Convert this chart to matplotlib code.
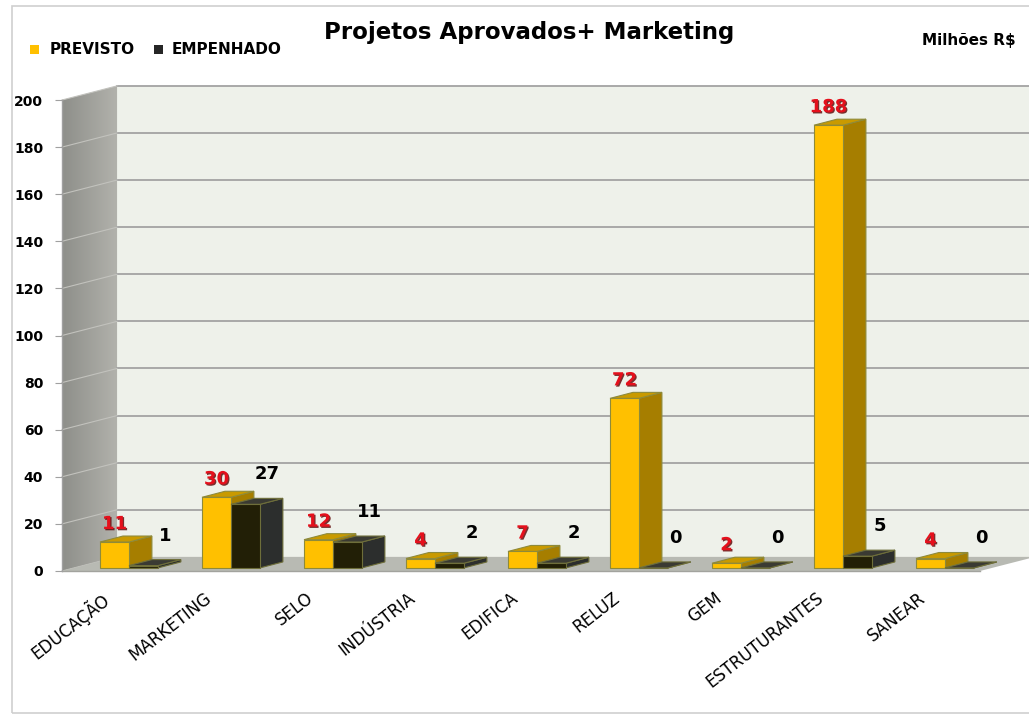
import matplotlib.pyplot as plt
import matplotlib.patheffects as pe
import numpy as np
from matplotlib.colors import LinearSegmentedColormap
from matplotlib.patches import Polygon, Rectangle

categorias = ["EDUCAÇÃO", "MARKETING", "SELO", "INDÚSTRIA", "EDIFICA",
              "RELUZ", "GEM", "ESTRUTURANTES", "SANEAR"]
previsto = [11, 30, 12, 4, 7, 72, 2, 188, 4]
empenhado = [1, 27, 11, 2, 2, 0, 0, 5, 0]
yticks = list(range(0, 201, 20))

W, H = 1029, 717

# fake 3d geometry (data units)
DX, DY = 0.54, 6.0        # depth of walls / floor
BDX, BDY = 0.225, 2.55    # depth of bars
BASE = 1.3
BW = 0.284
XR = 9.7                  # back wall runs off the right edge

YEL = ("#FFC000", "#A67E00", "#C99A00", "#8E8A3A")
BLK = ("#221F06", "#2C2E2D", "#3A3A33", "#6E6E3A")


def bar3d(ax, x0, v, colors):
    front, side, top, edge = colors
    t = BASE + v
    faces = [
        ([(x0 + BW, BASE), (x0 + BW + BDX, BASE + BDY),
          (x0 + BW + BDX, t + BDY), (x0 + BW, t)], side),
        ([(x0, t), (x0 + BDX, t + BDY), (x0 + BW + BDX, t + BDY),
          (x0 + BW, t)], top),
        ([(x0, BASE), (x0 + BW, BASE), (x0 + BW, t), (x0, t)], front),
    ]
    for pts, c in faces:
        ax.add_patch(Polygon(pts, closed=True, fc=c, ec=edge, lw=0.8,
                             zorder=3, clip_on=False))


def main() -> None:
    fig = plt.figure(figsize=(W / 100, H / 100), dpi=100)
    ax = fig.add_axes([62 / W, 146 / H, 918 / W, 471 / H])
    n = len(categorias)
    ax.set_xlim(0, n)
    ax.set_ylim(0, 200)

    # back wall + grid
    ax.add_patch(Rectangle((DX, DY), XR - DX, 200, fc="#EEF1EA", ec="none",
                           zorder=0, clip_on=False))
    for v in yticks[1:]:
        ax.plot([DX, XR], [v + DY, v + DY], color="#A3A3A3", lw=1.3,
                zorder=1, clip_on=False)

    # left wall with gradient
    wall = Polygon([(0, 0), (DX, DY), (DX, 200 + DY), (0, 200)], closed=True,
                   fc="none", ec="none", transform=ax.transData)
    ax.add_patch(wall)
    cmap = LinearSegmentedColormap.from_list("wall", ["#8E8F8A", "#B2B2AC"])
    im = ax.imshow(np.linspace(0, 1, 50)[None, :], cmap=cmap, aspect="auto",
                   extent=[0, DX, 0, 200 + DY], zorder=0.5)
    im.set_clip_box(fig.bbox)
    im.set_clip_path(wall)
    for v in yticks:
        ax.plot([0, DX], [v, v + DY], color="#C2C2BD", lw=0.8, zorder=1,
                clip_on=False)

    # floor
    ax.add_patch(Polygon([(0, 0), (n, 0), (n + DX, DY), (DX, DY)], closed=True,
                         fc="#B8BAB3", ec="none", zorder=1, clip_on=False))
    ax.plot([0, n], [0, 0], color="#A2A39E", lw=1.0, zorder=1.5, clip_on=False)

    ax.set_xlim(0, n)
    ax.set_ylim(0, 200)

    red_fx = [pe.SimplePatchShadow(offset=(0.9, -0.9), shadow_rgbFace="#5A0000",
                                   alpha=0.8),
              pe.Normal()]
    for i in range(n):
        xy = i + 0.3725
        xb = xy + BW
        bar3d(ax, xy, previsto[i], YEL)
        bar3d(ax, xb, empenhado[i], BLK)
        ax.annotate(str(previsto[i]), (xy + BW / 2, BASE + previsto[i]),
                    xytext=(0, 18), textcoords="offset pixels", ha="center",
                    va="center", fontsize=13, fontweight="bold",
                    color="#E5101C", path_effects=red_fx, zorder=5,
                    annotation_clip=False)
        ax.annotate(str(empenhado[i]), (xb + BW / 2, BASE + empenhado[i]),
                    xytext=(22, 30), textcoords="offset pixels", ha="center",
                    va="center", fontsize=13, fontweight="bold",
                    color="black", zorder=5, annotation_clip=False)

    # axes styling
    for s in ("top", "right", "bottom"):
        ax.spines[s].set_visible(False)
    ax.spines["left"].set_color("#A0A0A0")
    ax.spines["left"].set_linewidth(1.0)
    ax.spines["left"].set_zorder(2)
    ax.set_facecolor("none")
    ax.set_yticks(yticks)
    ax.set_yticklabels([str(v) for v in yticks], fontsize=10,
                       fontweight="bold")
    ax.tick_params(axis="y", length=5, color="#A0A0A0", pad=8.5)
    ax.set_xticks(np.arange(n) + 0.5)
    ax.set_xticklabels(categorias, fontsize=12, rotation=38, ha="right",
                       va="top")
    ax.tick_params(axis="x", length=0, pad=13)

    # title / legend / unit
    fig.text(529 / W, 1 - 39 / H, "Projetos Aprovados+ Marketing",
             ha="center", va="baseline", fontsize=16.5, fontweight="bold")
    fig.add_artist(Rectangle((30 / W, 1 - 54 / H), 9 / W, 9 / H,
                             fc="#FFC000", ec="none",
                             transform=fig.transFigure))
    fig.text(50 / W, 1 - 54 / H, "PREVISTO", ha="left", va="baseline",
             fontsize=11, fontweight="bold")
    fig.add_artist(Rectangle((154 / W, 1 - 54 / H), 9 / W, 9 / H,
                             fc="#262626", ec="none",
                             transform=fig.transFigure))
    fig.text(172 / W, 1 - 54 / H, "EMPENHADO", ha="left", va="baseline",
             fontsize=11, fontweight="bold")
    fig.text(922 / W, 1 - 45 / H, "Milhões R$", ha="left", va="baseline",
             fontsize=11, fontweight="bold")

    # outer frame
    fig.add_artist(Rectangle((12 / W, 1 - 713 / H), 1030 / W, 707 / H,
                             fill=False, ec="#CFCFCF", lw=1.2,
                             transform=fig.transFigure))

    fig.savefig("out.png", dpi=100)
    plt.close(fig)


if __name__ == "__main__":
    main()
